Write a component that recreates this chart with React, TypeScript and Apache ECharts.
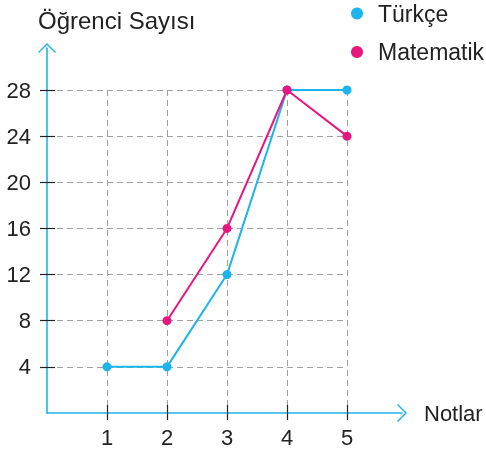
import React, { useEffect, useRef } from "react";
import * as echarts from "echarts";

const seriesNames = ["Türkçe", "Matematik"];
const turkceData: [number, number][] = [[1, 4], [2, 4], [3, 12], [4, 28], [5, 28]];
const matematikData: [number, number][] = [[2, 8], [3, 16], [4, 28], [5, 24]];
const xTicks = [1, 2, 3, 4, 5];
const yTicks = [4, 8, 12, 16, 20, 24, 28];
const xName = "Notlar";
const yName = "Öğrenci Sayısı";

const BLUE = "#1cb4ea";
const PINK = "#e8177f";
const TEXT = "#222222";
const FONT = "Liberation Sans";
const ARROW = "path://M0,9 L9,0 L18,9 L17,10 L9,2 L1,10 Z";

export default function App() {
  const ref = useRef<HTMLDivElement>(null);
  useEffect(() => {
    if (!ref.current) return;
    const chart = echarts.init(ref.current, null, { renderer: "svg" });
    const tickStyle = { color: TEXT, width: 1.2 };
    const gridLine = { show: true, lineStyle: { color: "#a0a0a0", type: [6, 4], width: 1 } };
    chart.setOption({
      animation: false,
      textStyle: { fontFamily: FONT },
      legend: {
        data: seriesNames,
        orient: "vertical",
        left: 351,
        top: 2,
        padding: 0,
        icon: "circle",
        itemWidth: 32,
        itemHeight: 12,
        itemGap: 15.5,
        textStyle: { fontSize: 23, color: TEXT, fontFamily: FONT },
      },
      grid: [
        { left: 47, right: 139, top: 90, bottom: 41 },
        { left: 47, right: 84, top: 48, bottom: 41 },
      ],
      xAxis: [
        {
          gridIndex: 0,
          type: "value",
          position: "bottom",
          min: 0,
          max: 5,
          interval: 1,
          axisLine: { show: false },
          axisTick: { show: true, inside: false, length: 7, lineStyle: tickStyle, customValues: xTicks },
          axisLabel: { customValues: xTicks, fontSize: 22, color: TEXT, margin: 13, fontFamily: FONT },
          splitLine: gridLine,
        },
        {
          gridIndex: 0,
          type: "value",
          position: "bottom",
          min: 0,
          max: 5,
          interval: 1,
          axisLine: { show: false },
          axisTick: { show: true, inside: true, length: 8, lineStyle: tickStyle, customValues: xTicks },
          axisLabel: { show: false },
          splitLine: { show: false },
        },
        {
          gridIndex: 1,
          type: "value",
          min: 0,
          max: 1,
          axisLine: {
            show: true,
            onZero: false,
            lineStyle: { color: BLUE, width: 1.6 },
            symbol: ["none", ARROW],
            symbolSize: [18, 10],
          },
          axisTick: { show: false },
          axisLabel: { show: false },
          splitLine: { show: false },
          name: xName,
          nameLocation: "end",
          nameGap: 22,
          nameTextStyle: { fontSize: 22, color: TEXT, fontFamily: FONT, verticalAlign: "middle", padding: [3, 0, 0, 0] },
        },
      ],
      yAxis: [
        {
          gridIndex: 0,
          type: "value",
          position: "left",
          min: 0,
          max: 28,
          interval: 4,
          axisLine: { show: false },
          axisTick: { show: true, inside: false, length: 7, lineStyle: tickStyle, customValues: yTicks },
          axisLabel: { customValues: yTicks, fontSize: 22, color: TEXT, margin: 16, fontFamily: FONT },
          splitLine: gridLine,
        },
        {
          gridIndex: 0,
          type: "value",
          position: "left",
          min: 0,
          max: 28,
          interval: 4,
          axisLine: { show: false },
          axisTick: { show: true, inside: true, length: 8, lineStyle: tickStyle, customValues: yTicks },
          axisLabel: { show: false },
          splitLine: { show: false },
        },
        {
          gridIndex: 1,
          type: "value",
          min: 0,
          max: 1,
          axisLine: {
            show: true,
            onZero: false,
            lineStyle: { color: BLUE, width: 1.6 },
            symbol: ["none", ARROW],
            symbolSize: [18, 10],
          },
          axisTick: { show: false },
          axisLabel: { show: false },
          splitLine: { show: false },
          name: yName,
          nameLocation: "end",
          nameGap: 28,
          nameTextStyle: { fontSize: 24, color: TEXT, fontFamily: FONT, align: "left", verticalAlign: "middle", padding: [0, 0, 0, -9] },
        },
      ],
      series: [
        {
          name: seriesNames[0],
          type: "line",
          xAxisIndex: 0,
          yAxisIndex: 0,
          data: turkceData,
          symbol: "circle",
          symbolSize: 9,
          itemStyle: { color: BLUE },
          lineStyle: { color: BLUE, width: 2 },
          z: 3,
        },
        {
          name: seriesNames[1],
          type: "line",
          xAxisIndex: 0,
          yAxisIndex: 0,
          data: matematikData,
          symbol: "circle",
          symbolSize: 9,
          itemStyle: { color: PINK },
          lineStyle: { color: PINK, width: 2 },
          z: 4,
        },
      ],
    });
    return () => chart.dispose();
  }, []);
  return (
    <div
      ref={ref}
      style={{ position: "fixed", left: 0, top: 0, width: 486, height: 454 }}
    />
  );
}
